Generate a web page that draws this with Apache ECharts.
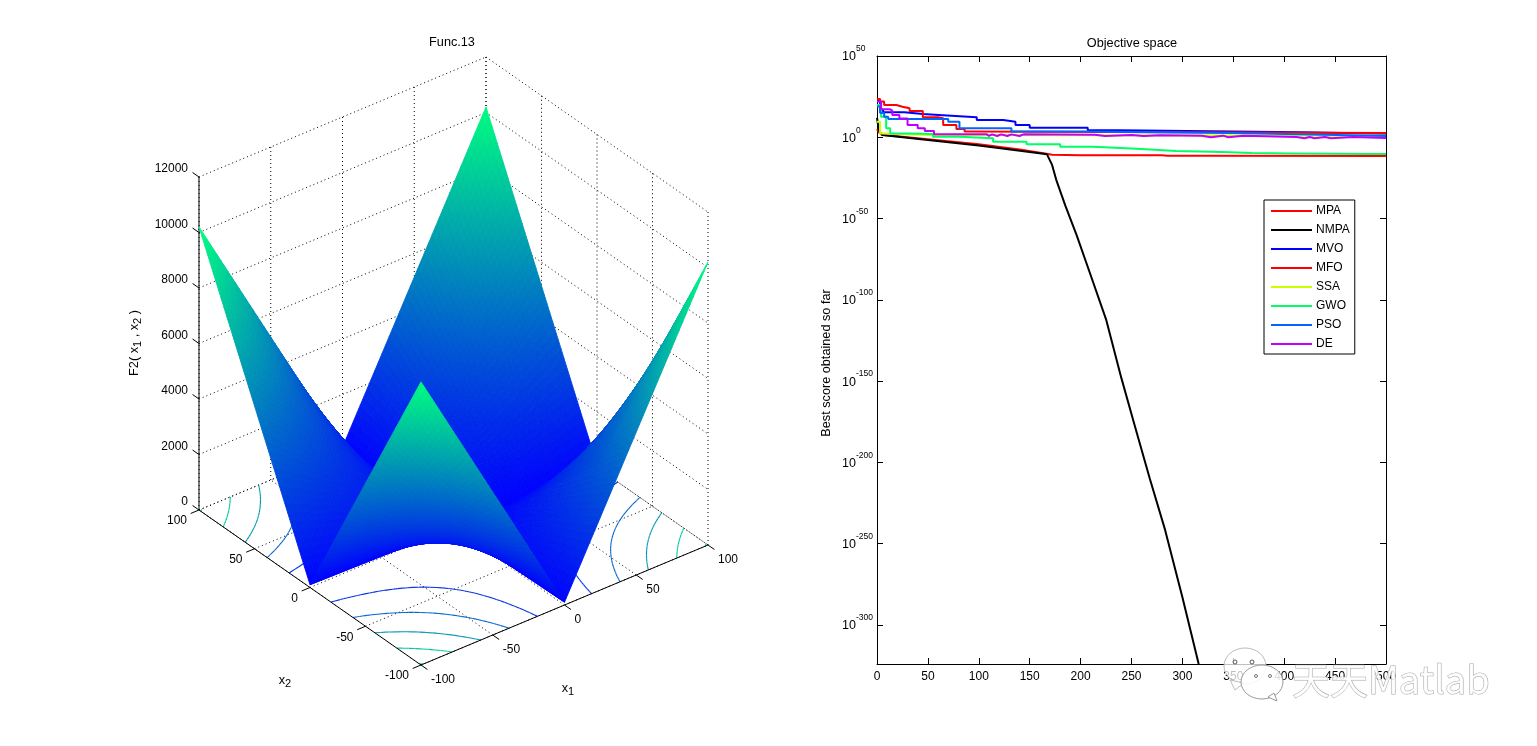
<!DOCTYPE html>
<html>
<head>
<meta charset="UTF-8">
<title>Func.13</title>
<style>
html,body{margin:0;padding:0;background:#fff}
#chart{width:1537px;height:746px}
</style>
<script src="https://cdn.jsdelivr.net/npm/echarts@6/dist/echarts.min.js"></script>
</head>
<body>
<div id="chart"></div>
<script>
// surface samples
const gridX1 = [-100,-80,-60,-40,-20,0,20,40,60,80,100]
const gridX2 = [-100,-80,-60,-40,-20,0,20,40,60,80,100]
const surfaceZ = [
	[10200,8180,6160,4140,2120,100,2120,4140,6160,8180,10200],
	[8180,6560,4940,3320,1700,80,1700,3320,4940,6560,8180],
	[6160,4940,3720,2500,1280,60,1280,2500,3720,4940,6160],
	[4140,3320,2500,1680,860,40,860,1680,2500,3320,4140],
	[2120,1700,1280,860,440,20,440,860,1280,1700,2120],
	[100,80,60,40,20,0,20,40,60,80,100],
	[2120,1700,1280,860,440,20,440,860,1280,1700,2120],
	[4140,3320,2500,1680,860,40,860,1680,2500,3320,4140],
	[6160,4940,3720,2500,1280,60,1280,2500,3720,4940,6160],
	[8180,6560,4940,3320,1700,80,1700,3320,4940,6560,8180],
	[10200,8180,6160,4140,2120,100,2120,4140,6160,8180,10200]
]
const contourLevels = [2000,4000,6000,8000,10000]
const x1Ticks = [-100,-50,0,50,100]
const x2Ticks = [-100,-50,0,50,100]
const zTicks = [0,2000,4000,6000,8000,10000,12000]

// convergence curves, best score as power of ten
const algoNames = ['MPA','NMPA','MVO','MFO','SSA','GWO','PSO','DE']
const algoColors = ['#ff0000','#000000','#0000ff','#ff0000','#ccff00','#00ff66','#0066ff','#bf00ff']
const mpaIter = [0,2,5,20,50,100,140,165,172,200,280,285,320,500]
const mpaBest = [5,3,1.5,0.6,-1.2,-4.3,-7.5,-10,-10.8,-11,-11,-11.3,-11.3,-11.5]
const nmpaIter = [0,1,2,5,50,100,150,167,172,176,185,196,210,225,240,253,268,283,300,316]
const nmpaBest = [12,8,4,1.4,-1.6,-5,-9,-10.5,-17,-26,-42,-60,-85,-112,-148,-177,-210,-241.5,-283,-324]
const mvoIter = [0,3,6,27,45,77,98,124,136,150,207,238,417,500]
const mvoBest = [23,17,15.4,14.3,13.1,12.3,10.6,9.6,7.6,5.9,4.3,3.1,2.2,2.2]
const mfoIter = [0,3,7,19,25,32,45,60,65,78,86,90,500]
const mfoBest = [23.6,22,19.9,18.8,17.8,16.2,12.3,11.7,7.6,5.1,3.5,2.6,2.4]
const ssaIter = [0,3,5,53,500]
const ssaBest = [9.6,2.4,1.4,1,1]
const gwoIter = [0,4,9,13,32,55,81,114,147,180,212,245,264,294,339,368,407,481,500]
const gwoBest = [19.9,12.7,5.5,2.4,2,0.4,-0.6,-2.7,-4.3,-5.8,-6.8,-7.4,-8.4,-9,-9.7,-9.9,-10.3,-10.3,-10.5]
const psoIter = [0,3,7,11,70,81,132,200,350,440,500]
const psoBest = [19,15,12.7,11.2,9.6,5.5,3.5,2.6,1.6,0.8,0.8]
const deIter = [0,4,13,15,22,30,40,47,56,108,110,113,118,122,128,132,140,144,214,224,250,262,278,319,328,340,345,360,412,420,425,430,440,446,468,500]
const deBest = [22,17.2,16.4,13.7,11.6,7.6,5.5,3.9,1.8,0.8,1.8,0.8,1.8,0.8,1.8,0.8,1.8,1.6,0.8,1.4,0.8,1.2,1,0,1,0,1,0.2,-0.6,0.2,-0.6,0.2,-0.6,0.2,-0.4,-0.4]
const algoIter = [mpaIter,nmpaIter,mvoIter,mfoIter,ssaIter,gwoIter,psoIter,deIter]
const algoBest = [mpaBest,nmpaBest,mvoBest,mfoBest,ssaBest,gwoBest,psoBest,deBest]
const algoStep = [false,false,'end','end','end','end','end','end']
const scoreTicks = [-300,-250,-200,-150,-100,-50,0,50]

const FONT = '"Liberation Sans", Arial, sans-serif'
const SUB = 8 // shading steps inside one mesh cell

// orthographic view of the 3d box, in page pixels
function project(x1, x2, z) {
	const a = (x1 + 100) / 200, b = (x2 + 100) / 200
	return [421 + 287 * a - 222 * b, 665 - 120 * a - 155 * b - z * 0.02775]
}
function winter(z) {
	const t = Math.max(0, Math.min(1, z / 10200))
	return 'rgb(0,' + Math.round(255 * t) + ',' + Math.round(255 - 127 * t) + ')'
}
function cellZ(i, j, s, t) {
	const r = surfaceZ
	return r[j][i] * (1 - s) * (1 - t) + r[j][i + 1] * s * (1 - t) + r[j + 1][i] * (1 - s) * t + r[j + 1][i + 1] * s * t
}
function cellX(i, s) { return gridX1[i] + (gridX1[i + 1] - gridX1[i]) * s }
function cellY(j, t) { return gridX2[j] + (gridX2[j + 1] - gridX2[j]) * t }

function renderCell(params, api) {
	const i = api.value(0), j = api.value(1)
	const pt = function (a, b) {
		return api.coord(project(cellX(i, a / SUB), cellY(j, b / SUB), cellZ(i, j, a / SUB, b / SUB)))
	}
	const children = []
	for (let b = SUB - 1; b >= 0; b--) {
		for (let a = SUB - 1; a >= 0; a--) {
			const c = winter(cellZ(i, j, (a + .5) / SUB, (b + .5) / SUB))
			children.push({
				type: 'polygon',
				shape: { points: [pt(a, b), pt(a + 1, b), pt(a + 1, b + 1), pt(a, b + 1)] },
				style: { fill: c, stroke: c, lineWidth: .9 }
			})
		}
	}
	return { type: 'group', children: children }
}

function renderContour(params, api) {
	const level = contourLevels[api.value(0)]
	const color = winter(level)
	const children = []
	for (let j = 0; j < gridX2.length - 1; j++) {
		for (let i = 0; i < gridX1.length - 1; i++) {
			for (let b = 0; b < SUB; b++) {
				for (let a = 0; a < SUB; a++) {
					const corners = [[a, b], [a + 1, b], [a + 1, b + 1], [a, b + 1]].map(function (p) {
						return [cellX(i, p[0] / SUB), cellY(j, p[1] / SUB), cellZ(i, j, p[0] / SUB, p[1] / SUB)]
					})
					const hits = []
					for (let k = 0; k < 4; k++) {
						const p = corners[k], q = corners[(k + 1) % 4]
						if ((p[2] < level) != (q[2] < level)) {
							const f = (level - p[2]) / (q[2] - p[2])
							hits.push(api.coord(project(p[0] + (q[0] - p[0]) * f, p[1] + (q[1] - p[1]) * f, 0)))
						}
					}
					if (hits.length == 2) {
						children.push({
							type: 'line',
							shape: { x1: hits[0][0], y1: hits[0][1], x2: hits[1][0], y2: hits[1][1] },
							style: { stroke: color, lineWidth: 1.1 }
						})
					}
				}
			}
		}
	}
	return { type: 'group', children: children }
}

function seg(api, a, b, dotted) {
	const p = api.coord(project(a[0], a[1], a[2])), q = api.coord(project(b[0], b[1], b[2]))
	return {
		type: 'line',
		shape: { x1: p[0], y1: p[1], x2: q[0], y2: q[1] },
		style: { stroke: '#000', lineWidth: 1, lineDash: dotted ? [1, 3] : null }
	}
}
function label(api, pos, dx, dy, text, align) {
	const p = api.coord(pos)
	return {
		type: 'text',
		x: p[0] + dx,
		y: p[1] + dy,
		style: { text: text, fill: '#000', font: '12px ' + FONT, align: align, verticalAlign: 'middle' }
	}
}

// walls and floor dots
function renderBox(params, api) {
	const zMax = zTicks[zTicks.length - 1]
	const c = []
	x1Ticks.forEach(function (t) {
		c.push(seg(api, [t, -100, 0], [t, 100, 0], true))
		c.push(seg(api, [t, 100, 0], [t, 100, zMax], true))
	})
	x2Ticks.forEach(function (t) {
		c.push(seg(api, [-100, t, 0], [100, t, 0], true))
		c.push(seg(api, [100, t, 0], [100, t, zMax], true))
	})
	zTicks.forEach(function (z) {
		c.push(seg(api, [-100, 100, z], [100, 100, z], true))
		c.push(seg(api, [100, 100, z], [100, -100, z], true))
	})
	return { type: 'group', children: c }
}

// solid axes, ticks and their labels
function renderAxes(params, api) {
	const zMax = zTicks[zTicks.length - 1]
	const c = [
		seg(api, [-100, 100, 0], [-100, -100, 0]),
		seg(api, [-100, -100, 0], [100, -100, 0]),
		seg(api, [-100, 100, 0], [-100, 100, zMax])
	]
	x2Ticks.forEach(function (t) {
		c.push(seg(api, [-100, t, 0], [-105.8, t, 0]))
		c.push(label(api, project(-100, t, 0), -12, 11, String(t), 'right'))
	})
	x1Ticks.forEach(function (t) {
		c.push(seg(api, [t, -100, 0], [t, -105.8, 0]))
		c.push(label(api, project(t, -100, 0), 10, 14.5, String(t), 'left'))
	})
	zTicks.forEach(function (z) {
		c.push(seg(api, [-100, 100, z], [-100, 105.8, z]))
		c.push(label(api, project(-100, 100, z), -11, -8, String(z), 'right'))
	})
	const rich = { sub: { fontSize: 11, fontFamily: FONT, fill: '#000', padding: [7, 0, 0, 0] }, n: { fontSize: 12.7, fontFamily: FONT, fill: '#000' } }
	const names = [
		{ x: 568, y: 688, rotation: 0, text: '{n|x}{sub|1}' },
		{ x: 285, y: 680, rotation: 0, text: '{n|x}{sub|2}' },
		{ x: 134, y: 343, rotation: Math.PI / 2, text: '{n|F2( x}{sub|1}{n| , x}{sub|2}{n| )}' }
	]
	names.forEach(function (n) {
		const p = api.coord([n.x, n.y])
		c.push({
			type: 'text',
			x: p[0],
			y: p[1],
			rotation: n.rotation,
			style: { text: n.text, rich: rich, align: 'center', verticalAlign: 'middle' }
		})
	})
	return { type: 'group', children: c }
}

const cellData = []
for (let j = gridX2.length - 2; j >= 0; j--) {
	for (let i = gridX1.length - 2; i >= 0; i--) {
		cellData.push([i, j])
	}
}

const curveSeries = algoNames.map(function (name, k) {
	return {
		name: name,
		type: 'line',
		xAxisIndex: 1,
		yAxisIndex: 1,
		data: algoIter[k].map(function (v, n) { return [v, algoBest[k][n]] }),
		step: algoStep[k],
		symbol: 'none',
		lineStyle: { color: algoColors[k], width: 2 },
		itemStyle: { color: algoColors[k] },
		z: 3 + k
	}
})

const chart = echarts.init(document.getElementById('chart'), null, { renderer: 'canvas' })
chart.setOption({
	animation: false,
	textStyle: { fontFamily: FONT },
	title: [
		{ text: 'Func.13', left: 447, top: 31, textAlign: 'center', textStyle: { fontSize: 12.7, fontWeight: 'normal', color: '#000' } },
		{ text: 'Objective space', left: 1127, top: 32, textAlign: 'center', textStyle: { fontSize: 12.7, fontWeight: 'normal', color: '#000' } }
	],
	legend: {
		data: algoNames.map(function (n) { return { name: n, icon: 'path://M0 0H41V2H0Z' } }),
		orient: 'vertical',
		left: 1264,
		top: 200,
		padding: [5, 5, 4, 7],
		itemWidth: 41,
		itemHeight: 14,
		itemGap: 7,
		selectedMode: false,
		backgroundColor: '#fff',
		borderColor: '#000',
		borderWidth: 1,
		borderRadius: 0,
		textStyle: { fontSize: 12, color: '#000', padding: [0, 0, 0, -1] },
		z: 20
	},
	grid: [
		{ left: 0, top: 0, width: 780, height: 746, show: false },
		{ left: 877, top: 56, width: 509, height: 608, show: false }
	],
	xAxis: [
		{ type: 'value', gridIndex: 0, min: 0, max: 780, show: false },
		{
			type: 'value', gridIndex: 1, min: 0, max: 500, interval: 50, position: 'bottom',
			axisLine: { onZero: false, lineStyle: { color: '#000', width: 1 } },
			axisTick: { inside: true, length: 6, lineStyle: { color: '#000' } },
			axisLabel: { color: '#000', fontSize: 12, margin: 7, hideOverlap: false, showMinLabel: true, showMaxLabel: true },
			splitLine: { show: false }
		},
		{
			type: 'value', gridIndex: 1, min: 0, max: 500, interval: 50, position: 'top',
			axisLine: { onZero: false, lineStyle: { color: '#000', width: 1 } },
			axisTick: { inside: true, length: 6, lineStyle: { color: '#000' } },
			axisLabel: { show: false },
			splitLine: { show: false }
		}
	],
	yAxis: [
		{ type: 'value', gridIndex: 0, min: 0, max: 746, inverse: true, show: false },
		{
			type: 'value', gridIndex: 1, min: -324, max: 50, position: 'left',
			name: 'Best score obtained so far', nameLocation: 'middle', nameGap: 44, nameRotate: 90,
			nameTextStyle: { color: '#000', fontSize: 12.7, padding: [0, 6, 0, 0] },
			axisLine: { onZero: false, lineStyle: { color: '#000', width: 1 } },
			axisTick: { inside: true, length: 6, lineStyle: { color: '#000' }, customValues: scoreTicks },
			axisLabel: {
				customValues: scoreTicks,
				margin: 35,
				align: 'left',
				formatter: function (v) { return '{b|10}{s|' + v + '}' },
				rich: {
					b: { fontSize: 12.5, color: '#000', padding: [2, 0, 0, 0] },
					s: { fontSize: 8.5, color: '#000', padding: [0, 0, 14, 0] }
				}
			},
			splitLine: { show: false }
		},
		{
			type: 'value', gridIndex: 1, min: -324, max: 50, position: 'right',
			axisLine: { onZero: false, lineStyle: { color: '#000', width: 1 } },
			axisTick: { inside: true, length: 6, lineStyle: { color: '#000' }, customValues: scoreTicks },
			axisLabel: { show: false },
			splitLine: { show: false }
		}
	],
	series: [
		{ type: 'custom', xAxisIndex: 0, yAxisIndex: 0, data: [[0, 0]], renderItem: renderBox, silent: true, clip: false, z: 1 },
		{ type: 'custom', xAxisIndex: 0, yAxisIndex: 0, data: contourLevels.map(function (l, k) { return [k, 0] }), renderItem: renderContour, silent: true, clip: false, z: 2, progressive: 0 },
		{ type: 'custom', xAxisIndex: 0, yAxisIndex: 0, data: [[0, 0]], renderItem: renderAxes, silent: true, clip: false, z: 3 },
		{ type: 'custom', xAxisIndex: 0, yAxisIndex: 0, data: cellData, renderItem: renderCell, silent: true, clip: false, z: 4, progressive: 0 }
	].concat(curveSeries),
	// watermark over the corner of the right panel
	graphic: [
		{ type: 'ellipse', shape: { cx: 1245, cy: 666, rx: 21, ry: 18 }, style: { fill: 'rgba(255,255,255,.75)', stroke: '#bbb', lineWidth: 1 }, z: 30, silent: true },
		{ type: 'polygon', shape: { points: [[1230, 680], [1235, 690], [1244, 683]] }, style: { fill: '#fff', stroke: '#bbb', lineWidth: 1 }, z: 30, silent: true },
		{ type: 'circle', shape: { cx: 1235, cy: 662, r: 2 }, style: { fill: '#fff', stroke: '#555', lineWidth: 1 }, z: 31, silent: true },
		{ type: 'circle', shape: { cx: 1252, cy: 662, r: 2 }, style: { fill: '#fff', stroke: '#555', lineWidth: 1 }, z: 31, silent: true },
		{ type: 'ellipse', shape: { cx: 1262, cy: 682, rx: 21, ry: 17 }, style: { fill: 'rgba(255,255,255,.85)', stroke: '#999', lineWidth: 1 }, z: 32, silent: true },
		{ type: 'polygon', shape: { points: [[1268, 697], [1277, 701], [1274, 693]] }, style: { fill: '#fff', stroke: '#999', lineWidth: 1 }, z: 32, silent: true },
		{ type: 'circle', shape: { cx: 1256, cy: 676, r: 1.5 }, style: { fill: '#fff', stroke: '#777', lineWidth: 1 }, z: 33, silent: true },
		{ type: 'circle', shape: { cx: 1270, cy: 676, r: 1.5 }, style: { fill: '#fff', stroke: '#777', lineWidth: 1 }, z: 33, silent: true },
		{
			type: 'text', x: 1292, y: 680, z: 33, silent: true,
			style: { text: '天天Matlab', font: '38px "Noto Sans CJK SC"', fill: 'rgba(255,255,255,.85)', stroke: '#aaa', lineWidth: 1, verticalAlign: 'middle' }
		}
	]
})
</script>
</body>
</html>
